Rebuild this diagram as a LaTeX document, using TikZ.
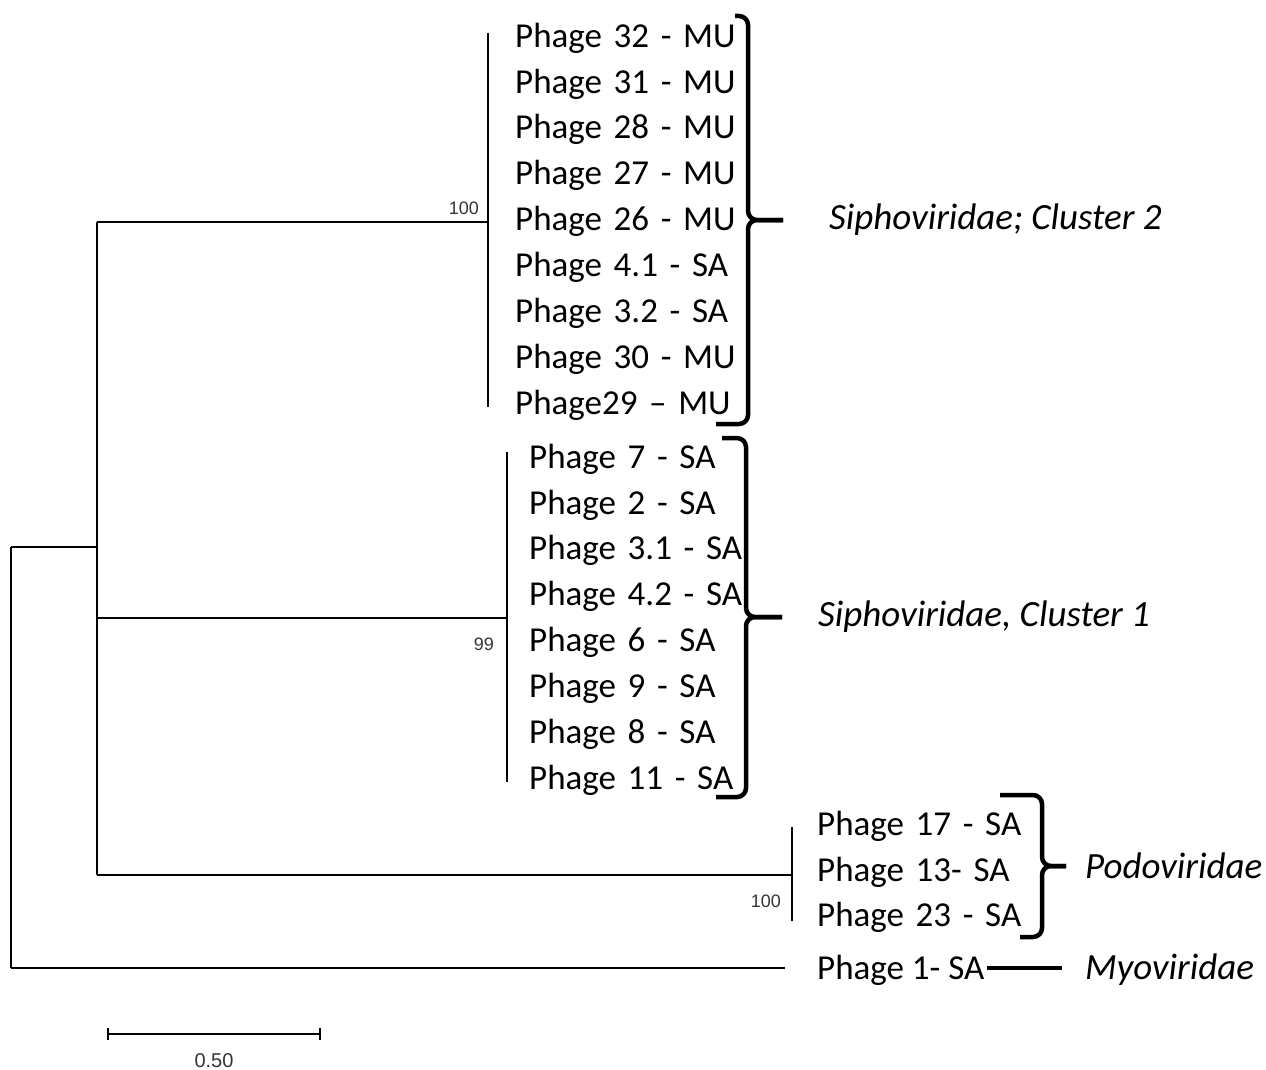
\documentclass[tikz,border=0pt]{standalone}
\usepackage{fontspec}
\usetikzlibrary{arrows.meta, positioning}
\newfontfamily\taxfont{Carlito}
\newfontfamily\bootfont{Liberation Sans}

\begin{document}
\begin{tikzpicture}[x=1pt, y=-1pt]
    \tikzstyle{branch} = [line width=1.4pt, black]
    \tikzstyle{taxon}  = [inner sep=0pt, anchor=west, font=\taxfont\fontsize{35}{40}\selectfont]
    \tikzstyle{leaf}   = [taxon, minimum height=45.5pt, text width=250pt, align=left]
    \tikzstyle{group}  = [inner sep=0pt, font=\taxfont\itshape\fontsize{37}{42}\selectfont]
    \tikzstyle{boot}   = [inner sep=0pt, text=black!80, font=\bootfont\fontsize{18}{19}\selectfont]
    \tikzstyle{brace}  = [line width=4.5pt, rounded corners=9pt]

    \useasboundingbox (0,0) rectangle (1266,1070);

    % Siphoviridae, cluster 2
    \node[leaf] (c2a) at (515,38) {Phage 32 - MU};
    \node[leaf, below=0pt of c2a] (c2b) {Phage 31 - MU};
    \node[leaf, below=0pt of c2b] (c2c) {Phage 28 - MU};
    \node[leaf, below=0pt of c2c] (c2d) {Phage 27 - MU};
    \node[leaf, below=0pt of c2d] (c2e) {Phage 26 - MU};
    \node[leaf, below=0pt of c2e] (c2f) {Phage 4.1 - SA};
    \node[leaf, below=0pt of c2f] (c2g) {Phage 3.2 - SA};
    \node[leaf, below=0pt of c2g] (c2h) {Phage 30 - MU};
    \node[leaf, below=0pt of c2h] (c2i) {Phage29 – MU};

    % Siphoviridae, cluster 1
    \node[leaf] (c1a) at (529,459) {Phage 7 - SA};
    \node[leaf, below=0pt of c1a] (c1b) {Phage 2 - SA};
    \node[leaf, below=0pt of c1b] (c1c) {Phage 3.1 - SA};
    \node[leaf, below=0pt of c1c] (c1d) {Phage 4.2 - SA};
    \node[leaf, below=0pt of c1d] (c1e) {Phage 6 - SA};
    \node[leaf, below=0pt of c1e] (c1f) {Phage 9 - SA};
    \node[leaf, below=0pt of c1f] (c1g) {Phage 8 - SA};
    \node[leaf, below=0pt of c1g] (c1h) {Phage 11 - SA};

    % Podoviridae and Myoviridae
    \node[leaf] (poa) at (817,826) {Phage 17 - SA};
    \node[leaf, below=0pt of poa] (pob) {Phage 13- SA};
    \node[leaf, below=0pt of pob] (poc) {Phage 23 - SA};
    \node[taxon] (p1) at (817,970) {Phage 1- SA};

    % tree
    \coordinate (rt) at (11,547);
    \coordinate (rb) at (11,968);
    \coordinate (m1) at (785,968);
    \coordinate (a0) at (97,547);
    \coordinate (a1) at (97,222);
    \coordinate (a2) at (97,618);
    \coordinate (a3) at (97,875);
    \coordinate (n2) at (488,222);
    \coordinate (n2t) at (488,33);
    \coordinate (n2b) at (488,407);
    \coordinate (n1) at (507,618);
    \coordinate (n1t) at (507,452);
    \coordinate (n1b) at (507,782);
    \coordinate (np) at (792,875);
    \coordinate (npt) at (792,827);
    \coordinate (npb) at (792,921);

    \draw[branch] (rt) -- (rb);
    \draw[branch] (rt) -- (a0);
    \draw[branch] (rb) -- (m1);
    \draw[branch] (a1) -- (a3);
    \draw[branch] (a1) -- (n2);
    \draw[branch] (a2) -- (n1);
    \draw[branch] (a3) -- (np);
    \draw[branch] (n2t) -- (n2b);
    \draw[branch] (n1t) -- (n1b);
    \draw[branch] (npt) -- (npb);

    % bootstrap values
    \node[boot, anchor=east] (bs2) at (479,208) {100};
    \node[boot, anchor=east] (bs1) at (494,644) {99};
    \node[boot, anchor=east] (bsp) at (781,901) {100};

    % braces
    \coordinate (t2) at (783,220);
    \coordinate (t1) at (782,617);
    \coordinate (tp) at (1066,866);
    \draw[brace] (735,16) -| (748,220) -- (t2);
    \draw[brace] (716,424) -| (748,220) -- (t2);
    \draw[brace] (722,438) -| (746,617) -- (t1);
    \draw[brace] (716,797) -| (746,617) -- (t1);
    \draw[brace] (1000,795) -| (1042,866) -- (tp);
    \draw[brace] (1020,937) -| (1042,866) -- (tp);

    \node[group, right=46pt of t2] (sip2) {Siphoviridae; Cluster 2};
    \node[group, right=36pt of t1] (sip1) {Siphoviridae, Cluster 1};
    \node[group, right=19pt of tp] (podo) {Podoviridae};
    \node[group, anchor=west] (myo) at (1085,970) {Myoviridae};
    \draw[line width=4.5pt] ([xshift=2pt]p1.east |- 0,968) -- ([xshift=-23pt]myo.west |- 0,968);

    % scale bar
    \coordinate (sb1) at (107,1034);
    \coordinate (sb2) at (321,1034);
    \draw[line width=2pt, {Bar[width=12pt]}-{Bar[width=12pt]}] (sb1) -- (sb2);
    \node[boot, font=\bootfont\fontsize{20}{21}\selectfont] (sbl) at (214,1061) {0.50};
\end{tikzpicture}
\end{document}
